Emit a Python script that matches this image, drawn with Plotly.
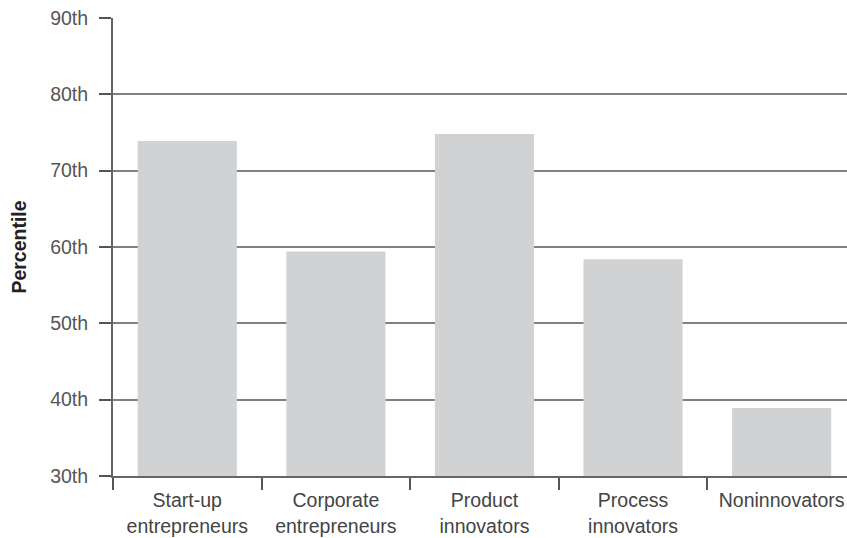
import plotly.graph_objects as go

categories = ["Start-up<br>entrepreneurs", "Corporate<br>entrepreneurs", "Product<br>innovators",
              "Process<br>innovators", "Noninnovators"]
values = [73.9, 59.4, 74.8, 58.4, 38.9]
tick_vals = [30, 40, 50, 60, 70, 80, 90]
tick_text = ["30th", "40th", "50th", "60th", "70th", "80th", "90th"]

fig = go.Figure(go.Bar(
    x=categories, y=[v - 30 for v in values], base=30,
    marker=dict(color="#d1d2d4", line=dict(width=0)),
    width=0.667,
))

fig.update_layout(
    width=847, height=538,
    margin=dict(l=113, r=0, t=18, b=62),
    plot_bgcolor="white", paper_bgcolor="white",
    font=dict(family="Liberation Sans, Arial, sans-serif", size=19, color="#444"),
    showlegend=False,
    bargap=0.333,
)
fig.update_yaxes(
    range=[30, 90], tickvals=tick_vals, ticktext=tick_text,
    showgrid=True, gridcolor="#808080", gridwidth=1.5,
    showline=True, linecolor="#666", linewidth=2,
    ticks="outside", ticklen=12, tickcolor="#555", tickwidth=2,
    tickfont=dict(size=19.5, color="#555"),
    ticklabelstandoff=7,
    title=dict(text="<b>Percentile</b>", font=dict(size=19.5, color="#222"), standoff=18),
    zeroline=False,
)
fig.update_xaxes(
    range=[-0.5, 4.44],
    showline=True, linecolor="#666", linewidth=2,
    ticks="outside", ticklen=12, tickcolor="#555", tickwidth=2,
    tickson="boundaries",
    tickfont=dict(size=19.5, color="#444"),
    ticklabelstandoff=6,
    showgrid=False,
)

fig.write_html("out.html")
